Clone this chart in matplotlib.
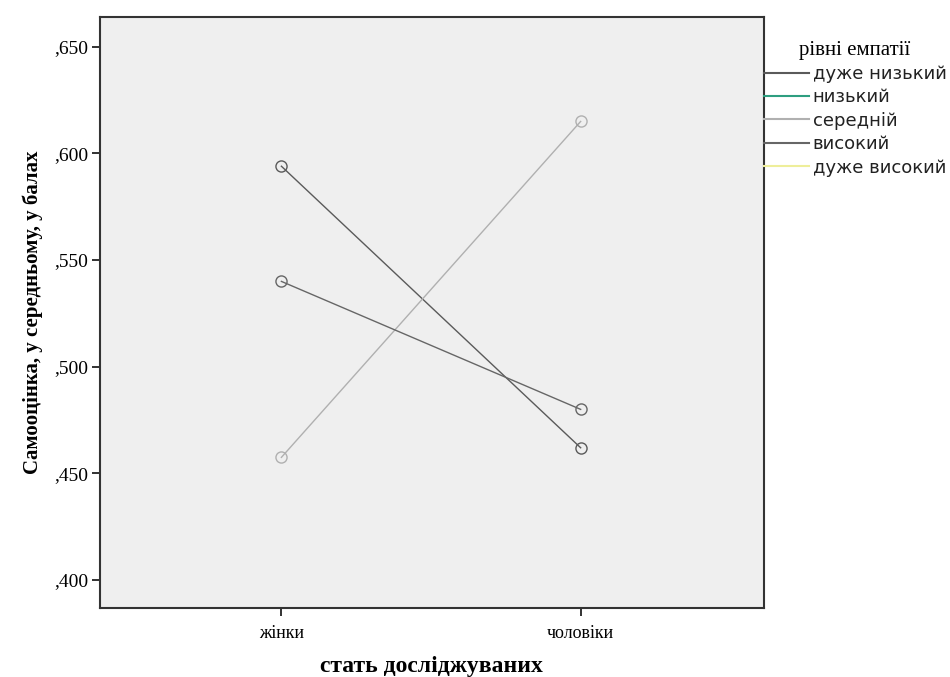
import matplotlib
matplotlib.use("Agg")
import matplotlib.pyplot as plt
import numpy as np
from matplotlib.lines import Line2D

categories = ["жінки", "чоловіки"]
series_names = ["дуже низький", "низький", "середній", "високий", "дуже високий"]
series_values = {
    "дуже низький": [0.594, 0.462],
    "низький": [np.nan, np.nan],
    "середній": [0.4575, 0.615],
    "високий": [0.540, 0.480],
    "дуже високий": [np.nan, np.nan],
}
series_colors = {
    "дуже низький": "#5a5a5a",
    "низький": "#2e9e80",
    "середній": "#b0b0b0",
    "високий": "#666666",
    "дуже високий": "#eeee9a",
}
yticks = [0.400, 0.450, 0.500, 0.550, 0.600, 0.650]
ytick_labels = [",400", ",450", ",500", ",550", ",600", ",650"]

fig = plt.figure(figsize=(9.5, 6.77), dpi=100)
ax = fig.add_axes([0.105, 0.102, 0.699, 0.873])
ax.set_facecolor("#efefef")

x = np.arange(len(categories))
for name in series_names:
    vals = series_values[name]
    ax.plot(x, vals, color=series_colors[name], lw=1.0, marker="o",
            markersize=8, markerfacecolor="none",
            markeredgecolor=series_colors[name], markeredgewidth=1.0,
            label=name)

ax.set_xlim(-0.607, 1.612)
ax.set_ylim(0.3869, 0.664)
ax.set_xticks(x)
ax.set_xticklabels(categories, fontfamily="Liberation Serif", fontsize=13)
ax.set_yticks(yticks)
ax.set_yticklabels(ytick_labels, fontfamily="Liberation Serif", fontsize=14)
ax.tick_params(axis="both", direction="out", length=6, width=1.3, color="#222222")
ax.tick_params(axis="y", pad=2)
ax.tick_params(axis="x", pad=6)
for s in ax.spines.values():
    s.set_color("#333333")
    s.set_linewidth(1.5)

ax.set_ylabel("Самооцінка, у середньому, у балах", fontfamily="Liberation Serif",
              fontsize=15, fontweight="bold", labelpad=8)
ax.set_xlabel("стать досліджуваних", fontfamily="Liberation Serif", fontsize=17,
              fontweight="bold", labelpad=10)

leg_handles = [Line2D([0], [0], color=series_colors[n], lw=1.5) for n in series_names]
leg = ax.legend(leg_handles, series_names, loc="upper left", bbox_to_anchor=(1.0, 0.96),
                frameon=False, fontsize=13, handlelength=2.5, handletextpad=0.2,
                borderaxespad=0.0, borderpad=0.0, labelspacing=0.3,
                title="рівні емпатії",
                title_fontproperties={"family": "Liberation Serif", "size": 15})
for t in leg.get_texts():
    t.set_color("#222222")

fig.savefig("out.png", dpi=100, facecolor="white")
